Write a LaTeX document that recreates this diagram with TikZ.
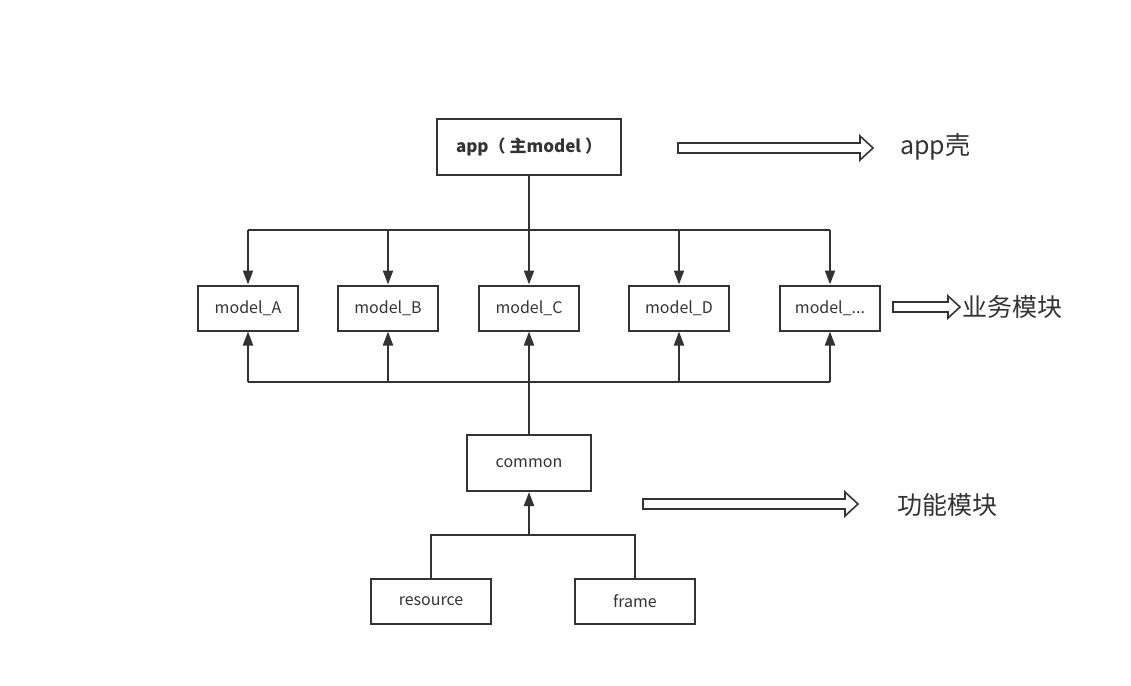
\documentclass[tikz,border=0pt]{standalone}
\usepackage{fontspec}
\setmainfont{Noto Sans CJK SC}
\usetikzlibrary{arrows.meta}
\definecolor{ink}{HTML}{333333}
\tikzset{
  box/.style={draw=ink, line width=2pt, minimum height=45pt, minimum width=100pt, inner sep=0pt, font=\fontsize{16}{18}\selectfont, text=ink},
  bigbox/.style={box, minimum height=56pt, minimum width=124pt},
  link/.style={draw=ink, line width=2pt},
  arr/.style={link, -{Triangle[width=10pt,length=14pt]}},
  hollow/.style={draw=ink, line width=1.6pt, fill=white},
  lbl/.style={font=\fontsize{25}{28}\selectfont, text=ink, anchor=west, inner sep=0pt}
}
\begin{document}
\begin{tikzpicture}[x=1pt,y=-1pt]
\useasboundingbox (0,0) rectangle (1131,685);
\node[box, minimum width=184pt, minimum height=56pt, font=\fontsize{17}{20}\selectfont\bfseries] (app) at (529,147) {app（ 主model ）};
\node[box] (mA) at (248,308) {model\_A};
\node[box] (mB) at (388,308) {model\_B};
\node[box] (mC) at (529,308) {model\_C};
\node[box] (mD) at (679,308) {model\_D};
\node[box] (mE) at (830,308) {model\_...};
\node[bigbox] (common) at (529,463) {common};
\node[box, minimum width=120pt] (res) at (431,601) {resource};
\node[box, minimum width=120pt] (frame) at (635,601) {frame};
\coordinate (top) at (529,230);
\coordinate (bot) at (529,382);
\coordinate (low) at (529,535);
% top bus
\draw[link] (app.south) -- (top);
\draw[link] (top -| mA) -- (top -| mE);
\foreach \m in {mA,mB,mC,mD,mE} \draw[arr] (top -| \m) -- (\m.north);
% bottom bus
\draw[link] (common.north) -- (bot);
\draw[link] (bot -| mA) -- (bot -| mE);
\foreach \m in {mA,mB,mC,mD,mE} \draw[arr] (bot -| \m) -- (\m.south);
% lower
\draw[link] (res.north) -- (low -| res) -- (low -| frame) -- (frame.north);
\draw[arr] (low) -- (common.south);
% labels
\node[lbl] (l1) at (900,147) {app壳};
\node[lbl] (l2) at (962,307) {业务模块};
\node[lbl] (l3) at (897,505) {功能模块};
% hollow arrows
\draw[hollow] (678,143) -- (860,143) -- (860,136) -- (873,148) -- (860,160) -- (860,153) -- (678,153) -- cycle;
\draw[hollow] (893,302) -- (948,302) -- (948,296) -- (960,307) -- (948,318) -- (948,312) -- (893,312) -- cycle;
\draw[hollow] (643,499) -- (845,499) -- (845,492) -- (858,504) -- (845,516) -- (845,509) -- (643,509) -- cycle;
\end{tikzpicture}
\end{document}
